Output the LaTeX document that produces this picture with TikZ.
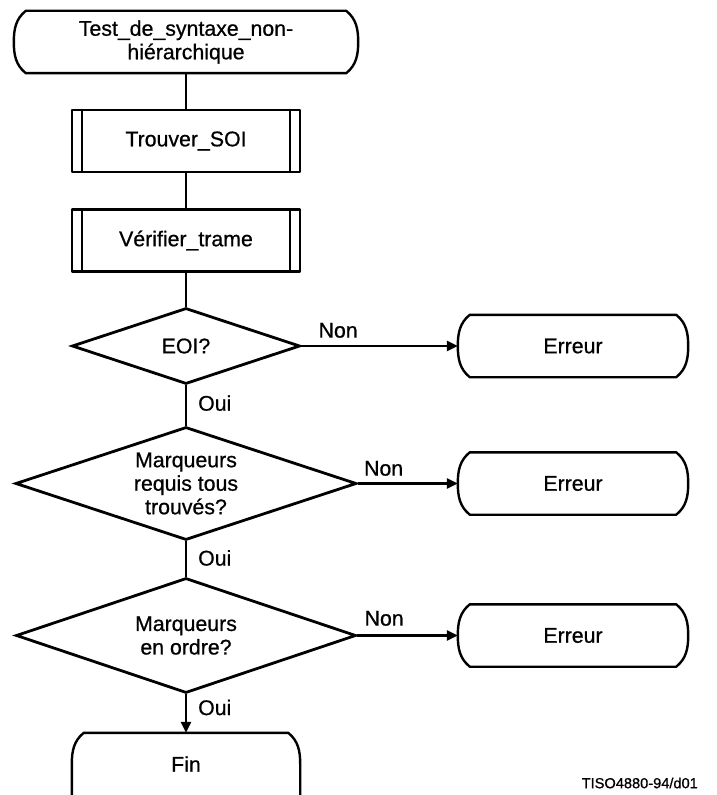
\documentclass[tikz,border=0pt]{standalone}
\usepackage{fontspec}
\setmainfont{Liberation Sans}[AutoFakeBold=0.7]
\usetikzlibrary{shapes.geometric,arrows.meta}

\newcommand\termoutline[1]{%
  \draw[ln] ([xshift=12bp]#1.north west) -- ([xshift=-12bp]#1.north east)
    .. controls ([xshift=-2bp,yshift=-8bp]#1.north east) and ([yshift=13bp]#1.east) .. (#1.east)
    .. controls ([yshift=-13bp]#1.east) and ([xshift=-2bp,yshift=8bp]#1.south east) .. ([xshift=-12bp]#1.south east)
    -- ([xshift=12bp]#1.south west)
    .. controls ([xshift=2bp,yshift=8bp]#1.south west) and ([yshift=-13bp]#1.west) .. (#1.west)
    .. controls ([yshift=13bp]#1.west) and ([xshift=2bp,yshift=-8bp]#1.north west) .. cycle;}

\newcommand\procbars[1]{%
  \draw[ln] ([xshift=11bp]#1.north west) -- ([xshift=11bp]#1.south west);
  \draw[ln] ([xshift=-11bp]#1.north east) -- ([xshift=-11bp]#1.south east);}

\begin{document}
\begin{tikzpicture}[x=1bp,y=-1bp,
  txt/.style={font=\fontsize{21.3bp}{23.5bp}\selectfont\bfseries, align=center, inner sep=0pt},
  ln/.style={line width=2.4bp, line join=round},
  box/.style={txt, rectangle, draw, ln, minimum width=228bp, minimum height=62bp},
  termnode/.style={txt, rectangle, minimum height=62bp},
  decision/.style={txt, diamond, aspect=3, draw, line width=2.8bp},
  lab/.style={font=\fontsize{21.3bp}{23bp}\selectfont\bfseries, inner sep=0pt},
  arr/.style={ln, -{Triangle[length=11bp,width=10bp]}}]

\clip (0,0) rectangle (717,795);
\fill[white] (0,0) rectangle (717,795);

% nodes
\node[termnode, minimum width=344bp] (start) at (186,42) {\raisebox{-2bp}{\parbox{300bp}{\centering Test\_de\_syntaxe\_non-\\hiérarchique}}};
\node[box] (trouver) at (186,141) {Trouver\_SOI};
\node[box] (verif) at (186,240.5) {Vérifier\_trame};
\node[decision, minimum width=228bp, minimum height=76bp] (eoi) at (186,346) {EOI?};
\node[decision, minimum width=341bp, minimum height=113bp] (mrt) at (186,483.5) {Marqueurs\\requis tous\\trouvés?};
\node[decision, minimum width=340bp, minimum height=115bp] (mord) at (186,635.5) {Marqueurs\\en ordre?};
\node[termnode, minimum width=230bp] (err1) at (573,346) {Erreur};
\node[termnode, minimum width=230bp] (err2) at (573,483.5) {Erreur};
\node[termnode, minimum width=230bp] (err3) at (573,635.5) {Erreur};
\node[termnode, minimum width=228bp] (fin) at (186,764) {Fin};
\node[font=\fontsize{14.6bp}{17bp}\selectfont\bfseries, anchor=east, inner sep=0pt] (code) at (698,783) {TISO4880-94/d01};

% outlines
\termoutline{start}
\termoutline{err1}
\termoutline{err2}
\termoutline{err3}
\procbars{trouver}
\procbars{verif}
\draw[ln] ([yshift=-60bp]fin.east) -- (fin.east)
    .. controls ([yshift=13bp]fin.east) and ([xshift=-2bp,yshift=-8bp]fin.north east) .. ([xshift=-12bp]fin.north east)
    -- ([xshift=12bp]fin.north west)
    .. controls ([xshift=2bp,yshift=-8bp]fin.north west) and ([yshift=13bp]fin.west) .. (fin.west)
    -- ([yshift=-60bp]fin.west);

% connectors
\draw[ln] (start.south) -- (trouver.north);
\draw[ln] (trouver.south) -- (verif.north);
\draw[ln] (verif.south) -- (eoi.north);
\draw[arr] (eoi.east) -- (err1.west) node[lab, pos=0, anchor=south west, xshift=16bp, yshift=7bp] {Non};
\draw[ln] (eoi.south) -- (mrt.north) node[lab, pos=0.44, anchor=west, xshift=11bp] {Oui};
\draw[arr] (mrt.east) -- (err2.west) node[lab, pos=0, anchor=south west, xshift=5bp, yshift=6.5bp] {Non};
\draw[ln] (mrt.south) -- (mord.north) node[lab, pos=0.47, anchor=west, xshift=11bp] {Oui};
\draw[arr] (mord.east) -- (err3.west) node[lab, pos=0, anchor=south west, xshift=6bp, yshift=8.5bp] {Non};
\draw[arr] (mord.south) -- (fin.north) node[lab, pos=0.34, anchor=west, xshift=11bp] {Oui};
\end{tikzpicture}
\end{document}
